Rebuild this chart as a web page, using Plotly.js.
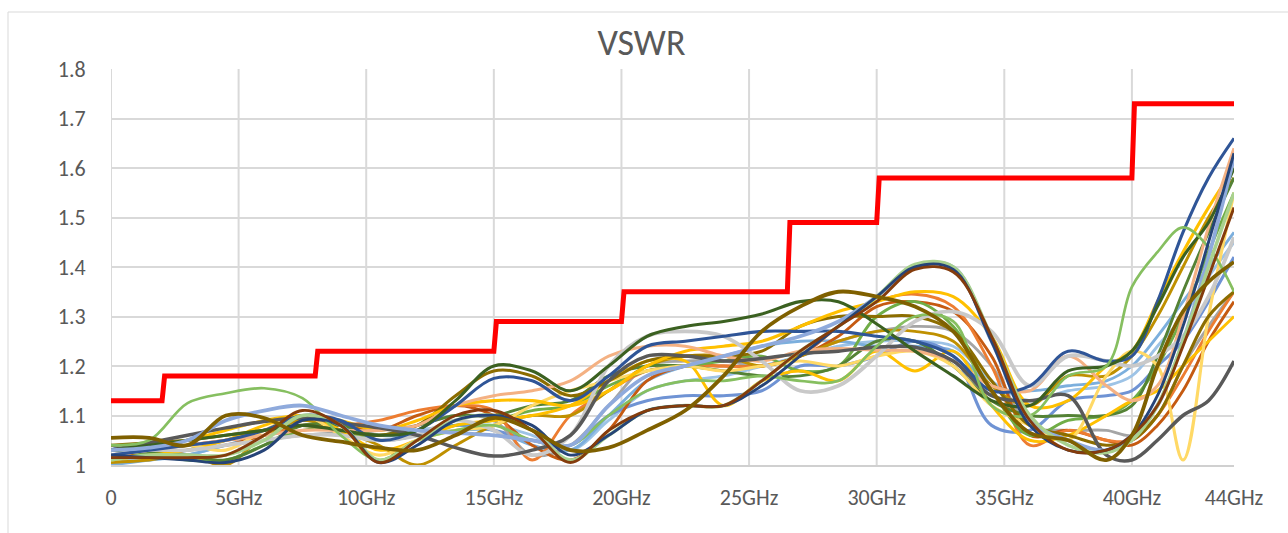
<!DOCTYPE html>
<html><head><meta charset="utf-8">
<script src="https://cdn.plot.ly/plotly-3.0.1.min.js"></script>
<style>html,body{margin:0;padding:0;background:#fff}#chart{width:1288px;height:533px}</style>
</head><body><div id="chart"></div>
<script>
// Frequency grid (GHz)
const freq = [0,1.5,3,4.5,6,7.5,9,10.5,12,13.5,15,16.5,18,19.5,21,22.5,24,25.5,27,28.5,30,31.5,33,34.5,36,37.5,39,40,41,42,43,44];

// Limit line (step)
const limitFreq = [0,2.0,2.1,8.0,8.1,15.0,15.1,20.0,20.1,26.5,26.6,30.0,30.1,40.0,40.1,44];
const limitVswr = [1.13,1.13,1.18,1.18,1.23,1.23,1.29,1.29,1.35,1.35,1.49,1.49,1.58,1.58,1.73,1.73];

// Axis ticks
const xTickVals = [0,5,10,15,20,25,30,35,40,44];
const xTickText = ['0','5GHz','10GHz','15GHz','20GHz','25GHz','30GHz','35GHz','40GHz','44GHz'];
const xGridVals = [0,5,10,15,20,25,30,35,40];
const yTickVals = [1,1.1,1.2,1.3,1.4,1.5,1.6,1.7,1.8];
const yTickText = ['1','1.1','1.2','1.3','1.4','1.5','1.6','1.7','1.8'];

// Measured VSWR series
const s01 = [1.03,1.035,1.05,1.09,1.11,1.12,1.10,1.08,1.07,1.065,1.06,1.05,1.04,1.12,1.18,1.2,1.22,1.24,1.26,1.29,1.34,1.40,1.40,1.25,1.09,1.05,1.03,1.06,1.12,1.25,1.42,1.62];
const s02 = [1.01,1.02,1.02,1.02,1.05,1.10,1.08,1.01,1.05,1.09,1.10,1.07,1.01,1.06,1.11,1.12,1.12,1.17,1.23,1.28,1.34,1.405,1.40,1.26,1.10,1.04,1.025,1.05,1.12,1.25,1.4,1.55];
const s03 = [1.02,1.015,1.01,1.005,1.03,1.09,1.08,1.005,1.04,1.09,1.10,1.08,1.02,1.06,1.11,1.12,1.12,1.16,1.22,1.28,1.34,1.40,1.395,1.25,1.08,1.03,1.03,1.06,1.14,1.28,1.45,1.63];
const s04 = [1.015,1.015,1.015,1.02,1.06,1.11,1.08,1.005,1.05,1.10,1.11,1.07,1.005,1.07,1.11,1.12,1.12,1.17,1.23,1.28,1.33,1.395,1.39,1.26,1.09,1.03,1.03,1.06,1.12,1.24,1.38,1.52];
const s05 = [1.03,1.04,1.05,1.06,1.07,1.08,1.07,1.06,1.07,1.13,1.20,1.19,1.15,1.2,1.26,1.28,1.29,1.305,1.33,1.33,1.285,1.23,1.18,1.13,1.12,1.19,1.2,1.23,1.32,1.42,1.49,1.60];
const s06 = [1.055,1.055,1.04,1.10,1.095,1.06,1.047,1.035,1.03,1.06,1.095,1.07,1.03,1.035,1.07,1.11,1.18,1.27,1.32,1.35,1.34,1.32,1.27,1.15,1.065,1.05,1.01,1.06,1.2,1.31,1.37,1.41];
const s07 = [1.04,1.045,1.05,1.06,1.07,1.08,1.07,1.06,1.08,1.14,1.19,1.18,1.14,1.17,1.21,1.22,1.22,1.23,1.28,1.3,1.3,1.3,1.27,1.17,1.08,1.06,1.04,1.05,1.1,1.2,1.3,1.35];
const s08 = [1.02,1.03,1.04,1.05,1.07,1.10,1.09,1.05,1.07,1.12,1.175,1.17,1.13,1.18,1.24,1.25,1.26,1.27,1.27,1.27,1.26,1.25,1.22,1.15,1.16,1.23,1.21,1.22,1.33,1.47,1.58,1.66];
const s09 = [1.02,1.03,1.04,1.05,1.06,1.07,1.07,1.07,1.08,1.12,1.14,1.15,1.17,1.22,1.24,1.24,1.22,1.21,1.23,1.235,1.232,1.23,1.21,1.16,1.15,1.22,1.16,1.13,1.16,1.3,1.48,1.64];
const s10 = [1.03,1.04,1.05,1.07,1.09,1.10,1.09,1.07,1.09,1.12,1.13,1.13,1.12,1.15,1.2,1.23,1.24,1.25,1.28,1.31,1.33,1.35,1.34,1.26,1.12,1.13,1.2,1.23,1.33,1.43,1.52,1.6];
const s11 = [1.02,1.03,1.04,1.03,1.07,1.1,1.06,1.02,1.05,1.07,1.08,1.12,1.15,1.17,1.19,1.2,1.19,1.2,1.21,1.2,1.22,1.23,1.2,1.12,1.08,1.05,1.18,1.23,1.2,1.01,1.3,1.55];
const s12 = [1.01,1.02,1.03,1.05,1.08,1.1,1.07,1.03,1.05,1.08,1.09,1.1,1.12,1.17,1.21,1.21,1.12,1.17,1.19,1.17,1.23,1.19,1.23,1.12,1.05,1.06,1.10,1.13,1.15,1.2,1.25,1.3];
const s13 = [1.02,1.03,1.03,1.04,1.05,1.06,1.06,1.05,1.06,1.09,1.07,1.02,1.06,1.2,1.26,1.27,1.26,1.21,1.15,1.16,1.22,1.29,1.31,1.27,1.16,1.22,1.21,1.2,1.22,1.26,1.34,1.46];
const s14 = [1.03,1.045,1.06,1.075,1.088,1.095,1.085,1.075,1.06,1.035,1.018,1.03,1.06,1.17,1.22,1.22,1.21,1.215,1.225,1.23,1.238,1.238,1.21,1.14,1.13,1.14,1.02,1.01,1.05,1.1,1.13,1.21];
const s15 = [1.02,1.025,1.03,1.04,1.05,1.06,1.065,1.07,1.08,1.1,1.09,1.02,1.04,1.12,1.2,1.21,1.21,1.2,1.22,1.25,1.27,1.28,1.27,1.2,1.08,1.07,1.07,1.06,1.1,1.2,1.28,1.35];
const s16 = [1.02,1.03,1.04,1.05,1.06,1.08,1.08,1.09,1.11,1.12,1.11,1.01,1.1,1.15,1.19,1.2,1.2,1.2,1.22,1.28,1.33,1.345,1.32,1.2,1.04,1.07,1.05,1.05,1.1,1.18,1.27,1.35];
const s17 = [1.01,1.01,1.02,1.04,1.06,1.08,1.08,1.06,1.07,1.08,1.08,1.06,1.03,1.09,1.15,1.17,1.18,1.2,1.22,1.24,1.25,1.25,1.24,1.17,1.13,1.15,1.16,1.18,1.24,1.3,1.38,1.45];
const s18 = [1.04,1.02,1.03,1.05,1.07,1.09,1.08,1.05,1.06,1.08,1.07,1.05,1.04,1.1,1.13,1.14,1.14,1.15,1.2,1.2,1.22,1.25,1.22,1.08,1.07,1.13,1.14,1.15,1.2,1.25,1.33,1.42];
const s19 = [1.03,1.02,1.01,1.01,1.04,1.07,1.07,1.05,1.06,1.08,1.09,1.11,1.12,1.16,1.19,1.2,1.21,1.22,1.19,1.2,1.3,1.33,1.28,1.15,1.06,1.09,1.1,1.13,1.2,1.3,1.43,1.55];
const s20 = [1.04,1.05,1.125,1.145,1.155,1.135,1.06,1.01,1.05,1.07,1.08,1.05,1.04,1.1,1.15,1.17,1.17,1.18,1.17,1.17,1.24,1.3,1.29,1.12,1.1,1.18,1.2,1.36,1.43,1.48,1.44,1.35];
const s21 = [1.03,1.025,1.02,1.01,1.04,1.08,1.08,1.06,1.08,1.1,1.1,1.12,1.13,1.18,1.2,1.2,1.19,1.18,1.18,1.2,1.25,1.25,1.2,1.13,1.1,1.1,1.1,1.12,1.22,1.35,1.47,1.58];
const s22 = [1.02,1.02,1.03,1.04,1.06,1.08,1.08,1.07,1.1,1.12,1.1,1.04,1.01,1.07,1.17,1.2,1.2,1.2,1.22,1.26,1.32,1.33,1.31,1.22,1.06,1.07,1.05,1.04,1.08,1.15,1.25,1.33];
const s23 = [1.005,1.01,1.02,1.0,1.06,1.09,1.07,1.04,1.0,1.04,1.08,1.1,1.1,1.15,1.2,1.22,1.22,1.2,1.22,1.25,1.27,1.27,1.25,1.16,1.12,1.18,1.18,1.22,1.3,1.4,1.5,1.58];
const s24 = [1.0,1.01,1.02,1.04,1.06,1.08,1.08,1.06,1.06,1.07,1.07,1.04,1.03,1.1,1.17,1.2,1.22,1.24,1.25,1.25,1.24,1.24,1.23,1.16,1.15,1.16,1.17,1.2,1.26,1.33,1.4,1.47];

const seriesList = [s17,s24,s18,s15,s22,s16,s23,s19,s21,s12,s11,s07,s10,s09,s13,s14,s08,s05,s20,s01,s02,s03,s04,s06];
const seriesColors = ['#9DC3E6','#7CAFDD','#6F93D4','#A5A5A5','#C55A11','#ED7D31','#BF9000','#70AD47','#548235','#FFC000','#FFD966','#8C6D00','#FFC000','#F4B183','#C9C9C9','#595959','#2F5597','#3B6121','#86BF60','#8FAADC','#A9D18E','#264478','#843C0C','#7F6000'];
const seriesWidths = [2.9,2.9,3.1,2.9,2.9,2.9,2.9,2.9,2.9,2.9,3.1,3.1,3.1,3.1,3.8,3.5,3.1,3.1,2.7,3.8,3.5,2.9,2.9,3.8];

const traces = seriesList.map((vals, i) => ({
  x: freq, y: vals, type: 'scatter', mode: 'lines',
  line: {color: seriesColors[i], width: seriesWidths[i], shape: 'spline', smoothing: 1},
  hoverinfo: 'skip'
}));
traces.push({
  x: limitFreq, y: limitVswr, type: 'scatter', mode: 'lines',
  line: {color: '#FF0000', width: 5, shape: 'linear'}, hoverinfo: 'skip'
});

const gridShapes = xGridVals.map(v => ({
  type: 'line', xref: 'x', yref: 'paper', x0: v, x1: v, y0: 0, y1: 1,
  line: {color: '#D9D9D9', width: 2}, layer: 'below'
}));
gridShapes.push({
  type: 'rect', xref: 'paper', yref: 'paper',
  x0: -103/1123, x1: 1.2, y0: -0.4, y1: 1 + 57/396,
  line: {color: '#D9D9D9', width: 1}, fillcolor: 'rgba(0,0,0,0)', layer: 'below'
});

const fontFam = 'Calibri, Carlito, "Open Sans", "Noto Sans", sans-serif';
const layout = {
  width: 1288, height: 533,
  margin: {l: 111, r: 54, t: 69, b: 68},
  paper_bgcolor: '#fff', plot_bgcolor: '#fff',
  showlegend: false,
  title: {text: 'VSWR', font: {family: fontFam, size: 36, color: '#595959'},
          x: 0.498, xref: 'container', xanchor: 'center', y: 1 - 42/533, yref: 'container', yanchor: 'middle'},
  xaxis: {range: [0, 44], tickmode: 'array', tickvals: xTickVals, ticktext: xTickText,
          showgrid: false, zeroline: false, showline: true, linecolor: '#D0D0D0', linewidth: 2,
          ticks: 'outside', ticklen: 12, tickcolor: 'rgba(0,0,0,0)',
          tickfont: {family: fontFam, size: 22, color: '#595959'}, fixedrange: true},
  yaxis: {range: [1, 1.8], tickmode: 'array', tickvals: yTickVals, ticktext: yTickText,
          showgrid: true, gridcolor: '#D9D9D9', gridwidth: 2, zeroline: false, showline: false,
          ticks: 'outside', ticklen: 20, tickcolor: 'rgba(0,0,0,0)',
          tickfont: {family: fontFam, size: 22, color: '#595959'}, fixedrange: true},
  shapes: gridShapes
};

Plotly.newPlot('chart', traces, layout, {displayModeBar: false, staticPlot: true});
</script>
</body></html>
